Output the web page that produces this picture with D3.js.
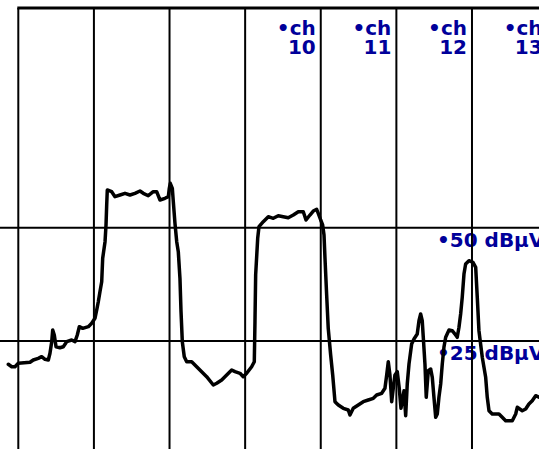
<!DOCTYPE html>
<html>
<head>
<meta charset="utf-8">
<script src="https://cdn.jsdelivr.net/npm/d3@7"></script>
<style>
  html, body { margin: 0; padding: 0; background: #ffffff; }
  svg { display: block; }
</style>
</head>
<body>
<script>
// grid: one vertical line per channel, two level lines
const gridChannels = [6, 7, 8, 9, 10, 11, 12, 13];
const channelLabels = ["10", "11", "12", "13"];
const labelChannels = [10, 11, 12, 13];
const levelTicks = [50, 25];
const levelLabels = ["•50 dBµV", "•25 dBµV"];

// measured trace: channel position and level in dBµV
const traceCh = [
  5.868, 5.913, 5.956, 6.000, 6.155, 6.198, 6.264, 6.309, 6.353, 6.397,
  6.419, 6.442, 6.455, 6.476, 6.499, 6.551, 6.595, 6.640, 6.706, 6.750,
  6.780, 6.807, 6.852, 6.926, 6.971, 7.014, 7.037, 7.058, 7.080, 7.103,
  7.116, 7.147, 7.160, 7.169, 7.177, 7.235, 7.279, 7.345, 7.411, 7.477,
  7.543, 7.609, 7.653, 7.719, 7.785, 7.830, 7.874, 7.940, 7.984, 7.997,
  8.010, 8.037, 8.050, 8.072, 8.095, 8.116, 8.138, 8.152, 8.169, 8.195,
  8.227, 8.293, 8.359, 8.425, 8.491, 8.579, 8.624, 8.690, 8.756, 8.822,
  8.866, 8.932, 8.975, 9.020, 9.086, 9.121, 9.130, 9.139, 9.166, 9.183,
  9.240, 9.306, 9.372, 9.438, 9.504, 9.570, 9.637, 9.703, 9.769, 9.805,
  9.857, 9.901, 9.946, 9.967, 9.999, 10.025, 10.043, 10.056, 10.078, 10.099,
  10.131, 10.158, 10.188, 10.232, 10.298, 10.364, 10.386, 10.430, 10.496, 10.562,
  10.628, 10.695, 10.739, 10.806, 10.849, 10.872, 10.893, 10.915, 10.938, 10.959,
  10.981, 11.012, 11.038, 11.061, 11.101, 11.123, 11.144, 11.167, 11.202, 11.233,
  11.276, 11.299, 11.321, 11.342, 11.356, 11.378, 11.395, 11.422, 11.454, 11.475,
  11.497, 11.520, 11.541, 11.563, 11.586, 11.607, 11.629, 11.652, 11.696, 11.739,
  11.775, 11.805, 11.828, 11.850, 11.871, 11.894, 11.916, 11.960, 12.013, 12.049,
  12.070, 12.092, 12.136, 12.181, 12.202, 12.225, 12.268, 12.357, 12.400, 12.445,
  12.533, 12.578, 12.599, 12.665, 12.710, 12.753, 12.797, 12.842, 12.886
];
const traceDb = [
  19.86, 19.33, 19.33, 20.08, 20.30, 20.81, 21.18, 21.54, 20.96, 20.81,
  22.29, 24.85, 27.43, 26.32, 23.74, 23.52, 23.74, 24.85, 25.22, 24.85,
  26.32, 28.16, 27.80, 28.16, 28.91, 30.01, 31.84, 33.67, 35.88, 38.08,
  43.25, 46.91, 50.60, 55.01, 58.32, 57.94, 56.84, 57.21, 57.59, 57.21,
  57.59, 58.10, 57.59, 57.06, 57.94, 57.94, 56.11, 56.49, 56.84, 58.69,
  59.80, 58.69, 55.74, 50.97, 46.91, 44.70, 38.83, 31.47, 24.85, 21.54,
  20.43, 20.43, 19.33, 18.23, 17.12, 15.29, 15.67, 16.39, 17.50, 18.60,
  18.23, 17.87, 17.12, 17.87, 19.33, 20.43, 29.26, 39.56, 47.66, 50.22,
  51.32, 52.43, 52.07, 52.65, 52.43, 52.21, 52.80, 53.53, 53.53, 51.70,
  52.80, 53.68, 54.06, 53.18, 51.70, 50.60, 48.39, 43.25, 35.15, 27.80,
  21.91, 17.50, 11.61, 10.88, 10.15, 9.78, 8.67, 10.15, 10.88, 11.61,
  11.98, 12.36, 13.08, 13.46, 14.56, 17.50, 20.43, 17.50, 11.61, 14.56,
  17.50, 18.23, 14.56, 10.15, 14.03, 8.52, 15.51, 19.92, 24.34, 25.44,
  26.54, 29.48, 30.96, 29.48, 25.82, 19.92, 12.58, 18.45, 18.82, 16.99,
  12.58, 8.16, 8.89, 12.58, 15.51, 19.92, 23.61, 25.82, 27.43, 27.27,
  26.54, 25.82, 28.02, 30.96, 34.64, 39.78, 41.99, 42.72, 42.37, 41.26,
  34.64, 27.27, 21.40, 16.99, 12.58, 9.62, 8.89, 8.89, 8.16, 7.41,
  7.41, 8.89, 10.37, 9.62, 10.00, 11.10, 11.83, 12.93, 12.58
];

const width = 539, height = 449;
const frameTop = 8;
const textColor = "#00009a";
const font = "'DejaVu Sans', Verdana, sans-serif";

const x = d3.scaleLinear().domain([6, 13]).range([18.3, 547.6]);
const y = d3.scaleLinear().domain([25, 50]).range([341, 227.7]);

const svg = d3.select("body")
  .append("svg")
    .attr("width", width)
    .attr("height", height);

// channel labels, two lines, right aligned against the grid line
const chText = svg.selectAll(".chlabel")
  .data(labelChannels)
  .enter()
  .append("text")
    .attr("class", "chlabel")
    .attr("text-anchor", "end")
    .attr("fill", textColor)
    .attr("font-family", font)
    .attr("font-weight", "bold")
    .attr("font-size", 20);
chText.append("tspan")
    .attr("x", d => x(d) - 5)
    .attr("y", 35)
    .text("•ch");
chText.append("tspan")
    .attr("x", d => x(d) - 5)
    .attr("y", 54)
    .text((d, i) => channelLabels[i]);

// level labels under each level line
svg.selectAll(".lvllabel")
  .data(levelTicks)
  .enter()
  .append("text")
    .attr("class", "lvllabel")
    .attr("x", x(12) - 35)
    .attr("y", d => y(d) + 19)
    .attr("fill", textColor)
    .attr("font-family", font)
    .attr("font-weight", "bold")
    .attr("font-size", 20)
    .text((d, i) => levelLabels[i]);

// grid
svg.selectAll(".vline")
  .data(gridChannels)
  .enter()
  .append("line")
    .attr("class", "vline")
    .attr("x1", d => x(d))
    .attr("x2", d => x(d))
    .attr("y1", frameTop)
    .attr("y2", height)
    .attr("stroke", "#000")
    .attr("stroke-width", 2);

svg.selectAll(".hline")
  .data(levelTicks)
  .enter()
  .append("line")
    .attr("class", "hline")
    .attr("x1", 0)
    .attr("x2", width)
    .attr("y1", d => y(d))
    .attr("y2", d => y(d))
    .attr("stroke", "#000")
    .attr("stroke-width", 2);

// top frame
svg.append("line")
    .attr("x1", x(6) - 1)
    .attr("x2", width)
    .attr("y1", frameTop)
    .attr("y2", frameTop)
    .attr("stroke", "#000")
    .attr("stroke-width", 3);

// trace
const points = traceCh.map((c, i) => [x(c), y(traceDb[i])]);
const lineGenerator = d3.line().curve(d3.curveLinear);

svg.append("path")
    .attr("d", lineGenerator(points))
    .attr("fill", "none")
    .attr("stroke", "#000")
    .attr("stroke-width", 3.5)
    .attr("stroke-linejoin", "round")
    .attr("stroke-linecap", "round");
</script>
</body>
</html>
